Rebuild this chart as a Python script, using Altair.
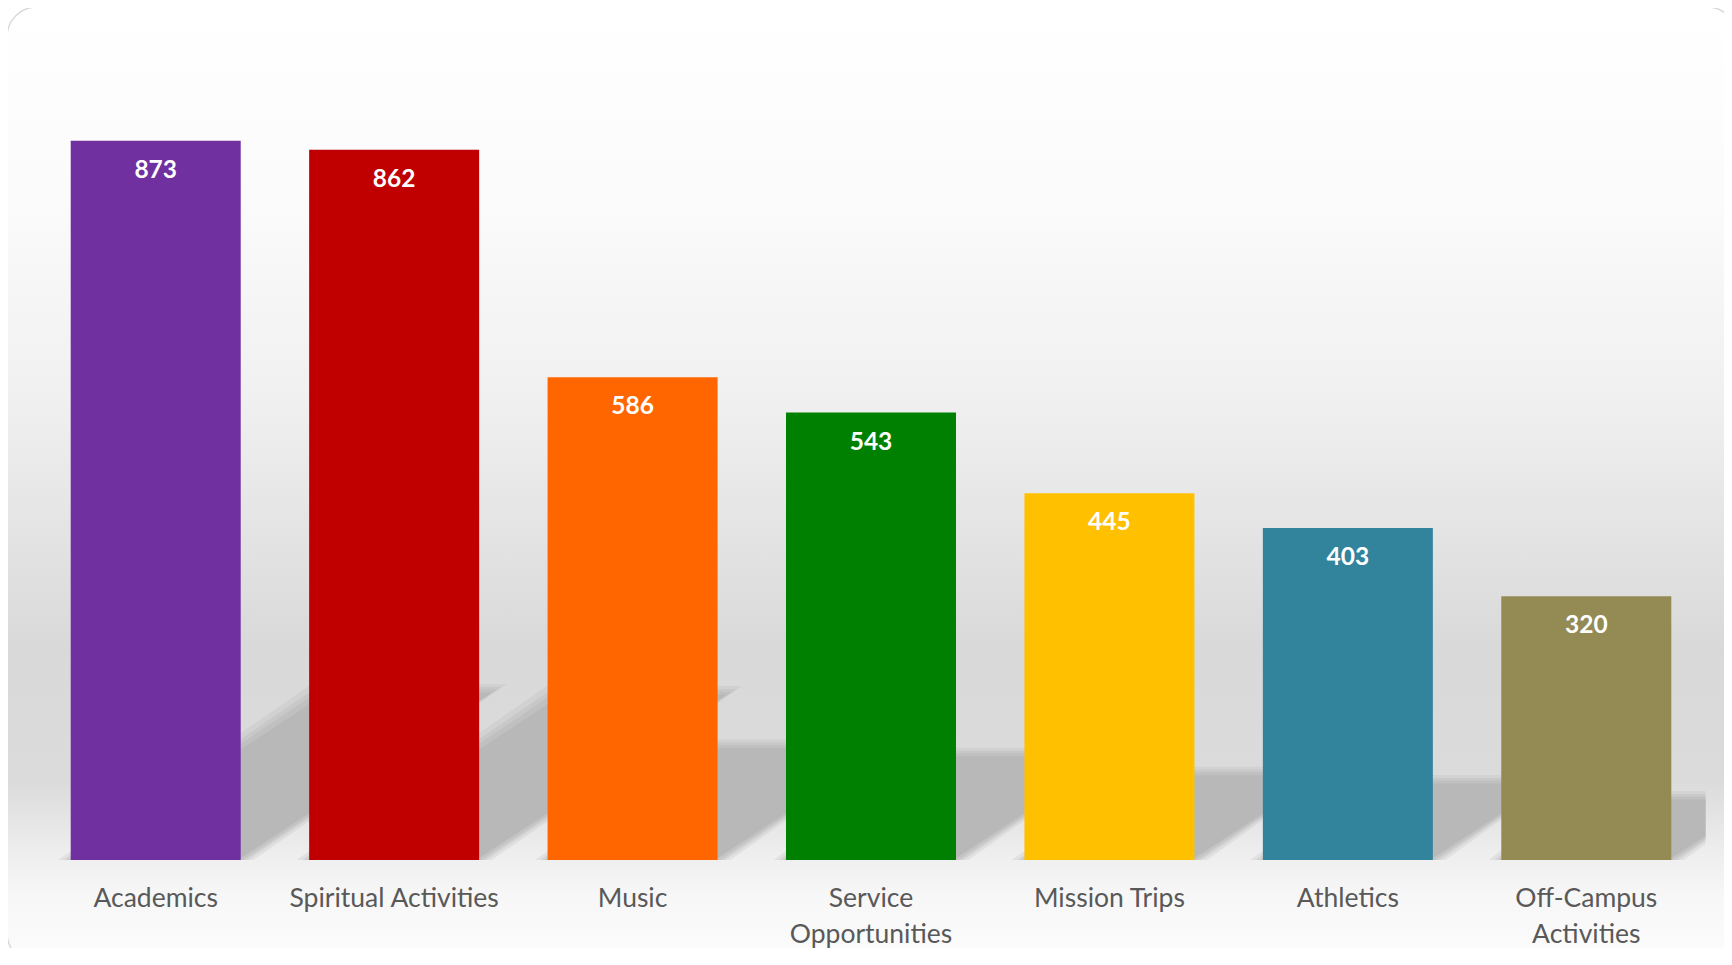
import altair as alt
import pandas as pd

# ---------------- data ----------------
categories = ["Academics", "Spiritual Activities", "Music", "Service Opportunities",
              "Mission Trips", "Athletics", "Off-Campus Activities"]
values = [873, 862, 586, 543, 445, 403, 320]
colors = ["#7030A0", "#C00000", "#FF6600", "#008000", "#FFC000", "#31849B", "#948A54"]
label_lines = {
    "Service Opportunities": ["Service", "Opportunities"],
    "Off-Campus Activities": ["Off-Campus", "Activities"],
}

# ---------------- layout / style ----------------
W, H = 1669, 824
Y_MAX = 1000
N = len(categories)
PAD_INNER = 0.287
PAD_OUTER = PAD_INNER / 2
SHADOW_H = 0.235          # shadow height as fraction of bar height
SHADOW_SLANT = 1.5        # horizontal shift per unit of shadow height
FONT = "Lato"
PAD_L, PAD_T, PAD_B = 28.5, 28, 88
PAD_R = 1716 - PAD_L - W   # keep the page from overflowing horizontally

df = pd.DataFrame({"category": categories, "value": values})

step_px = W / N
px_x = 1.0 / step_px          # one pixel in x-step units
px_y = Y_MAX / H              # one pixel in value units


def shadow_frame(expand):
    """Perspective shadow parallelograms, grown by `expand` px (for a soft edge)."""
    rows = []
    for i, (c, v) in enumerate(zip(categories, values)):
        h_val = SHADOW_H * v
        shift = SHADOW_SLANT * (h_val * H / Y_MAX) / step_px
        ex = 1.8 * expand * px_x
        ey = expand * px_y
        rows.append({"category": c, "y": 0.0,
                     "xl": i + PAD_OUTER - ex, "xr": i + 1 - PAD_OUTER + ex})
        rows.append({"category": c, "y": h_val + ey,
                     "xl": i + PAD_OUTER + shift - ex, "xr": i + 1 - PAD_OUTER + shift + ex})
    return pd.DataFrame(rows)


label_expr = ""
for k, lines in label_lines.items():
    arr = "[" + ",".join("'" + s + "'" for s in lines) + "]"
    label_expr += f"datum.label == '{k}' ? {arr} : "
label_expr += "datum.label"

y_scale = alt.Scale(domain=[0, Y_MAX], nice=False, zero=True)
xs_scale = alt.Scale(domain=[0, N], nice=False, zero=False)

# ---------------- background panel ----------------
bg_gradient = alt.Gradient(
    gradient="linear", x1=0, x2=0, y1=0, y2=1,
    stops=[
        alt.GradientStop(offset=0.0, color="#ffffff"),
        alt.GradientStop(offset=0.20, color="#fbfbfb"),
        alt.GradientStop(offset=0.41, color="#f0f0f0"),
        alt.GradientStop(offset=0.57, color="#e2e2e2"),
        alt.GradientStop(offset=0.67, color="#d9d9d9"),
        alt.GradientStop(offset=0.81, color="#dbdbdb"),
        alt.GradientStop(offset=0.89, color="#efefef"),
        alt.GradientStop(offset=0.93, color="#f7f7f7"),
        alt.GradientStop(offset=1.0, color="#fcfcfc"),
    ],
)
panel = alt.Chart(pd.DataFrame({"a": [0]})).mark_rect(
    fill=bg_gradient, stroke="#d9d9d9", strokeWidth=1.5, cornerRadius=30
).encode(
    x=alt.value(-29.5), x2=alt.value(W + 31.5),
    y=alt.value(-29), y2=alt.value(H + 103),
)

# ---------------- shadows (soft edge from stacked halos) ----------------
shadow_layers = []
for expand, opac in [(7, 0.25), (4, 0.35), (1.5, 0.5), (-1.5, 1.0)]:
    shadow_layers.append(
        alt.Chart(shadow_frame(expand)).mark_area(
            orient="horizontal", color="#b8b8b8", opacity=opac, clip=True
        ).encode(
            y=alt.Y("y:Q", scale=y_scale, axis=None),
            x=alt.X("xl:Q", scale=xs_scale, axis=None),
            x2="xr:Q",
            detail="category:N",
        )
    )
shadows = alt.layer(*shadow_layers)

# ---------------- bars + labels ----------------
x_enc = alt.X(
    "category:N", sort=categories,
    scale=alt.Scale(paddingInner=PAD_INNER, paddingOuter=PAD_OUTER, round=False),
    axis=alt.Axis(
        title=None, domain=False, ticks=False, tickSize=0, labelAngle=0,
        labelFont=FONT, labelFontSize=26.5, labelColor="#595959",
        labelPadding=46, labelBaseline="alphabetic", labelLineHeight=36.5,
        labelLimit=0, labelExpr=label_expr, zindex=2,
    ),
)

bars = alt.Chart(df).mark_bar().encode(
    x=x_enc,
    y=alt.Y("value:Q", scale=y_scale, axis=None),
    color=alt.Color("category:N", scale=alt.Scale(domain=categories, range=colors), legend=None),
)

labels = alt.Chart(df).mark_text(
    color="white", font=FONT, fontWeight="bold", fontSize=24.5,
    baseline="alphabetic", align="center", dy=37,
).encode(
    x=alt.X("category:N", sort=categories),
    y=alt.Y("value:Q", scale=y_scale),
    text=alt.Text("value:Q"),
)

front = alt.layer(bars, labels)

chart = alt.layer(panel, shadows, front).resolve_scale(x="independent").properties(
    width=W, height=H,
    autosize=alt.AutoSizeParams(type="none"),
    padding={"left": PAD_L, "top": PAD_T, "right": PAD_R, "bottom": PAD_B},
).configure_view(stroke=None).configure(background="white")

chart.save("out.html", embed_options={"renderer": "svg", "actions": False})
